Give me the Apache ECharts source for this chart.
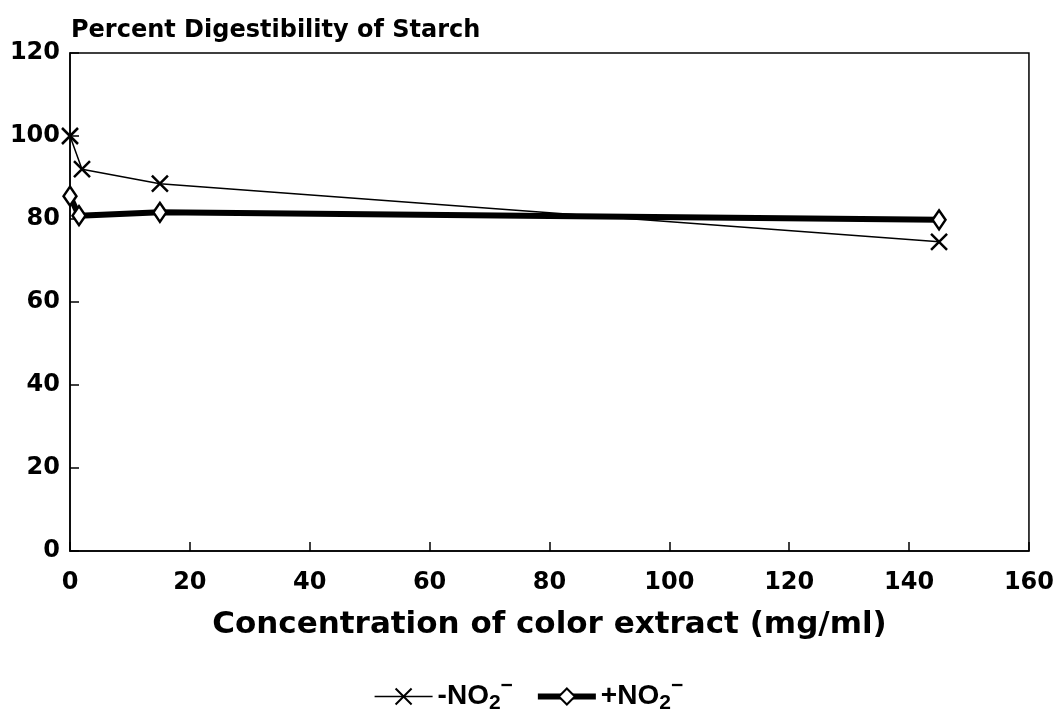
<!DOCTYPE html>
<html>
<head>
<meta charset="utf-8">
<script src="https://cdn.jsdelivr.net/npm/echarts@6/dist/echarts.min.js"></script>
<style>
  html, body { margin: 0; padding: 0; background: #fff; }
  #chart { width: 1057px; height: 725px; }
</style>
</head>
<body>
<div id="chart"></div>
<script>
// concentration of color extract (mg/ml)
const concMinus = [0, 2, 15, 145];
const digestMinus = [100, 92, 88.5, 74.5];   // -NO2-
const concPlus = [0, 1.5, 15, 145];
const digestPlus = [85.5, 80.8, 81.6, 79.8]; // +NO2-

const xTicks = [0, 20, 40, 60, 80, 100, 120, 140, 160];
const yTicks = [0, 20, 40, 60, 80, 100, 120];

const numFont = "DejaVu Sans";
const textFont = "Liberation Sans";

const chart = echarts.init(document.getElementById("chart"));

function pairs(xs, ys) {
  return xs.map((x, i) => [x, ys[i]]);
}

const option = {
  backgroundColor: "#fff",
  animation: false,
  title: {
    text: "Percent Digestibility of Starch",
    left: 66,
    top: 14,
    textStyle: { fontFamily: numFont, fontWeight: "bold", fontSize: 24, color: "#000" }
  },
  grid: {
    left: 70, right: 26, top: 53, bottom: 174,
    show: true, borderColor: "#000", borderWidth: 1.5, backgroundColor: "transparent"
  },
  legend: {
    left: "center",
    bottom: 6,
    itemWidth: 58,
    itemHeight: 20,
    itemGap: 22,
    formatter: function (name) {
      return "{t|" + name.charAt(0) + "NO}{s|2}{u|−}";
    },
    textStyle: {
      color: "#000",
      rich: {
        t: { fontFamily: textFont, fontWeight: "bold", fontSize: 28, color: "#000" },
        s: { fontFamily: textFont, fontWeight: "bold", fontSize: 21, color: "#000", padding: [14, 0, 0, 0] },
        u: { fontFamily: textFont, fontWeight: "bold", fontSize: 21, color: "#000", padding: [0, 0, 20, 0] }
      }
    },
    data: [
      { name: "-NO2", lineStyle: { width: 1.5, color: "#000" } },
      { name: "+NO2", lineStyle: { width: 6, color: "#000" } }
    ]
  },
  xAxis: {
    type: "value",
    min: 0, max: 160, interval: 20,
    name: "Concentration of color extract (mg/ml)",
    nameLocation: "middle",
    nameGap: 58,
    nameTextStyle: { fontFamily: numFont, fontWeight: "bold", fontSize: 31, color: "#000" },
    axisLine: { lineStyle: { color: "#000", width: 1.5 } },
    axisTick: { inside: true, length: 9, lineStyle: { color: "#000", width: 1.5 } },
    axisLabel: {
      margin: 20,
      fontFamily: numFont, fontWeight: "bold", fontSize: 24, color: "#000",
      formatter: function (v) { return xTicks.indexOf(v) >= 0 ? String(v) : ""; }
    },
    splitLine: { show: false }
  },
  yAxis: {
    type: "value",
    min: 0, max: 120, interval: 20,
    axisLine: { show: true, lineStyle: { color: "#000", width: 1.5 } },
    axisTick: { show: true, inside: true, length: 9, lineStyle: { color: "#000", width: 1.5 } },
    axisLabel: {
      margin: 10,
      fontFamily: numFont, fontWeight: "bold", fontSize: 24, color: "#000",
      formatter: function (v) { return yTicks.indexOf(v) >= 0 ? String(v) : ""; }
    },
    splitLine: { show: false }
  },
  series: [
    {
      name: "-NO2",
      type: "line",
      data: pairs(concMinus, digestMinus),
      symbol: "path://M0,0L10,10M10,0L0,10",
      symbolSize: 16,
      lineStyle: { color: "#000", width: 1.5 },
      itemStyle: { color: "none", borderColor: "#000", borderWidth: 2.5 },
      z: 3
    },
    {
      name: "+NO2",
      type: "line",
      data: pairs(concPlus, digestPlus),
      symbol: "diamond",
      symbolSize: [13, 19],
      lineStyle: { color: "#000", width: 6 },
      itemStyle: { color: "#fff", borderColor: "#000", borderWidth: 2.5 },
      z: 4
    }
  ]
};

chart.setOption(option);
</script>
</body>
</html>
